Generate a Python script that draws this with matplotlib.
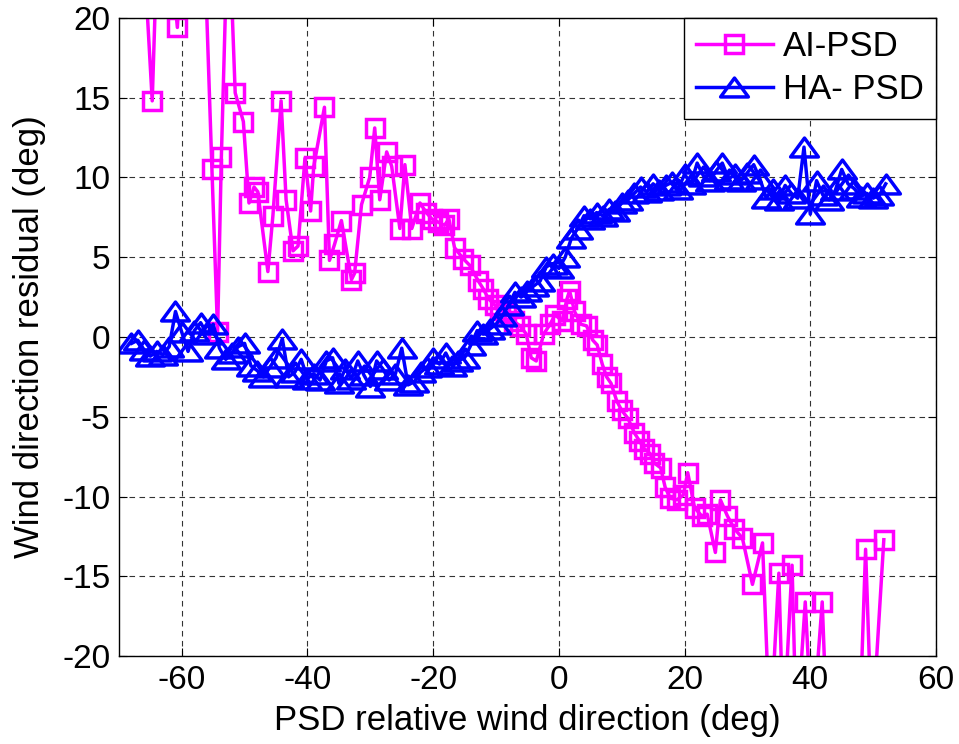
import matplotlib as mpl
mpl.use('agg')
import matplotlib.pyplot as plt
from matplotlib.path import Path

plt.rcParams['font.family'] = ['Liberation Sans', 'DejaVu Sans']
plt.rcParams['axes.unicode_minus'] = False

# HA-PSD (blue triangles)
ha_x = [-68, -67, -66, -65, -64, -63, -62, -61, -60, -59, -58, -57, -56, -55, -54,
        -53, -52, -51, -50, -49, -48, -47, -46, -45, -44, -43, -42, -41, -40, -39,
        -38, -37, -36, -35, -34, -33, -32, -31, -30, -29, -28, -27, -26, -25, -24,
        -23, -22, -21, -20, -19, -18, -17, -16, -15, -14, -13, -12, -11, -10, -9,
        -8, -7, -6, -5, -4, -3, -2, -1, 0, 1, 2, 3, 4, 5, 6,
        7, 8, 9, 10, 11, 12, 13, 14, 15, 16, 17, 18, 19, 20, 21,
        22, 23, 24, 25, 26, 27, 28, 29, 30, 31, 32, 33, 34, 35, 36,
        37, 38, 39, 40, 41, 42, 43, 44, 45, 46, 47, 48, 49, 50, 51, 52]
ha_y = [-0.4, -0.2, -0.8, -1.2, -0.9, -1.1, -0.6, 1.6, 0.3, -0.9, 0.4, 0.9, 0.2, 0.8, -0.7,
        -1.4, -1.0, -0.6, -0.4, -1.8, -2.1, -2.5, -1.9, -1.3, -0.1, -2.5, -2.2, -1.4, -2.6, -2.3,
        -2.7, -1.5, -1.3, -2.9, -2.0, -2.6, -1.5, -2.4, -3.1, -1.5, -2.0, -2.7, -2.3, -0.7, -3.0,
        -2.8, -2.2, -1.9, -1.3, -1.7, -1.0, -1.8, -1.5, -1.3, -0.5, 0.4, 0.2, 0.5, 0.8, 1.3,
        2.0, 2.8, 2.5, 2.9, 3.2, 3.5, 4.4, 4.6, 4.3, 5.0, 6.2, 6.8, 7.6, 7.4, 7.8,
        7.6, 8.0, 7.9, 8.4, 8.6, 9.0, 9.4, 9.1, 9.6, 9.2, 9.5, 9.7, 9.3, 10.2, 9.6,
        10.9, 10.1, 9.8, 10.4, 10.9, 9.9, 10.2, 9.8, 10.3, 10.8, 9.9, 8.7, 9.3, 8.6, 9.5,
        9.0, 8.7, 11.9, 7.7, 9.8, 8.9, 8.6, 9.2, 10.5, 9.6, 9.3, 8.8, 9.0, 8.7, 8.9, 9.6]

# AI-PSD (magenta squares), values outside +-20 run off the axes
ai_x = [-66.3, -64.7, -63.8, -62.5, -60.7, -59.5, -58.0, -56.6, -55.2, -54.3,
        -53.7, -52.6, -51.5, -50.2, -49.3, -48.5, -47.9, -46.3, -45.5, -44.2,
        -43.4, -42.3, -41.5, -40.4, -39.5, -39.0, -37.3, -36.5, -35.7, -34.6,
        -33.0, -32.5, -31.4, -30.1, -29.3, -28.5, -27.4, -26.6, -25.3, -24.5,
        -23.4, -22.1, -21.1, -20.2, -19.2, -18.2, -17.5, -16.6, -15.2, -14.2,
        -12.8, -12.0, -11.2, -10.2, -9.4, -8.4, -7.2, -6.2, -5.2, -4.4,
        -3.6, -2.4, -1.4, -0.6, 0.5, 1.3, 1.7, 2.5, 3.5, 4.4,
        5.4, 6.1, 6.9, 7.6, 8.3, 9.2, 10.0, 11.0, 12.0, 12.8,
        13.6, 14.5, 15.2, 16.2, 16.9, 17.7, 18.8, 19.8, 20.5, 21.6,
        22.7, 23.6, 24.9, 25.7, 26.8, 27.9, 29.2, 30.8, 32.4, 33.6,
        35.0, 35.7, 37.1, 37.8, 39.2, 40.3, 41.9, 42.7, 44.0, 46.0,
        47.8, 48.8, 49.8, 51.7]
ai_y = [26, 14.8, 26, 27, 19.4, 28, 30, 27, 10.5, 0.3,
        11.3, 27, 15.3, 13.5, 8.4, 9.4, 9.1, 4.1, 7.6, 14.8,
        8.6, 5.4, 5.7, 11.2, 7.9, 10.7, 14.4, 4.8, 5.8, 7.3,
        3.6, 4.0, 8.3, 10.0, 13.1, 8.6, 11.6, 10.7, 6.8, 10.8,
        6.8, 8.4, 7.8, 7.4, 7.2, 7.0, 7.4, 5.6, 4.9, 4.5,
        3.5, 3.0, 2.4, 2.0, 1.7, 1.5, 1.0, 0.7, 0.2, -1.3,
        -1.5, 0.2, 0.8, 1.4, 1.0, 2.4, 2.9, 1.6, 0.8, 0.7,
        -0.2, -0.5, -1.7, -2.5, -2.9, -4.0, -4.6, -5.1, -6.0, -6.5,
        -7.0, -7.3, -7.9, -8.2, -9.4, -10.1, -10.2, -9.9, -8.5, -10.7,
        -11.2, -11.1, -13.5, -10.2, -11.2, -12.0, -12.6, -15.5, -12.9, -25,
        -14.8, -25, -14.3, -25, -16.6, -25, -16.6, -25, -27, -27,
        -25, -13.3, -25, -12.7]

# MATLAB style triangle: wider than tall
tri = Path([(-1, -0.68), (1, -0.68), (0, 0.68), (-1, -0.68)],
           [Path.MOVETO, Path.LINETO, Path.LINETO, Path.CLOSEPOLY])

fig = plt.figure(figsize=(9.59, 7.44), dpi=100)
ax = fig.add_axes([0.124, 0.118, 0.852, 0.858])

ax.plot(ai_x, ai_y, color='#FF00FF', linewidth=2.5, marker='s', markersize=13,
        markerfacecolor='none', markeredgewidth=2.5, label='AI-PSD')
ax.plot(ha_x, ha_y, color='#0000FF', linewidth=2.5, marker=tri, markersize=20,
        markerfacecolor='none', markeredgewidth=2.5, label='HA- PSD')

ax.set_xlim(-70, 60)
ax.set_ylim(-20, 20)
ax.set_xticks([-60, -40, -20, 0, 20, 40, 60])
ax.set_yticks([-20, -15, -10, -5, 0, 5, 10, 15, 20])

ax.grid(True, color='#333333', linestyle=(0, (5, 4)), linewidth=0.8)
ax.tick_params(direction='in', top=True, right=True, length=6, width=0.8,
               labelsize=24, pad=6)
for s in ax.spines.values():
    s.set_linewidth(1.0)

ax.set_xlabel('PSD relative wind direction (deg)', fontsize=25, labelpad=6)
ax.set_ylabel('Wind direction residual (deg)', fontsize=25, labelpad=12)

leg = ax.legend(loc='upper right', fontsize=25, handlelength=2.2,
                handletextpad=0.3, fancybox=False, framealpha=1,
                borderaxespad=0, edgecolor='black', borderpad=0.35,
                labelspacing=0.3)
leg.get_frame().set_linewidth(1.0)

fig.savefig('out.png', dpi=100)
